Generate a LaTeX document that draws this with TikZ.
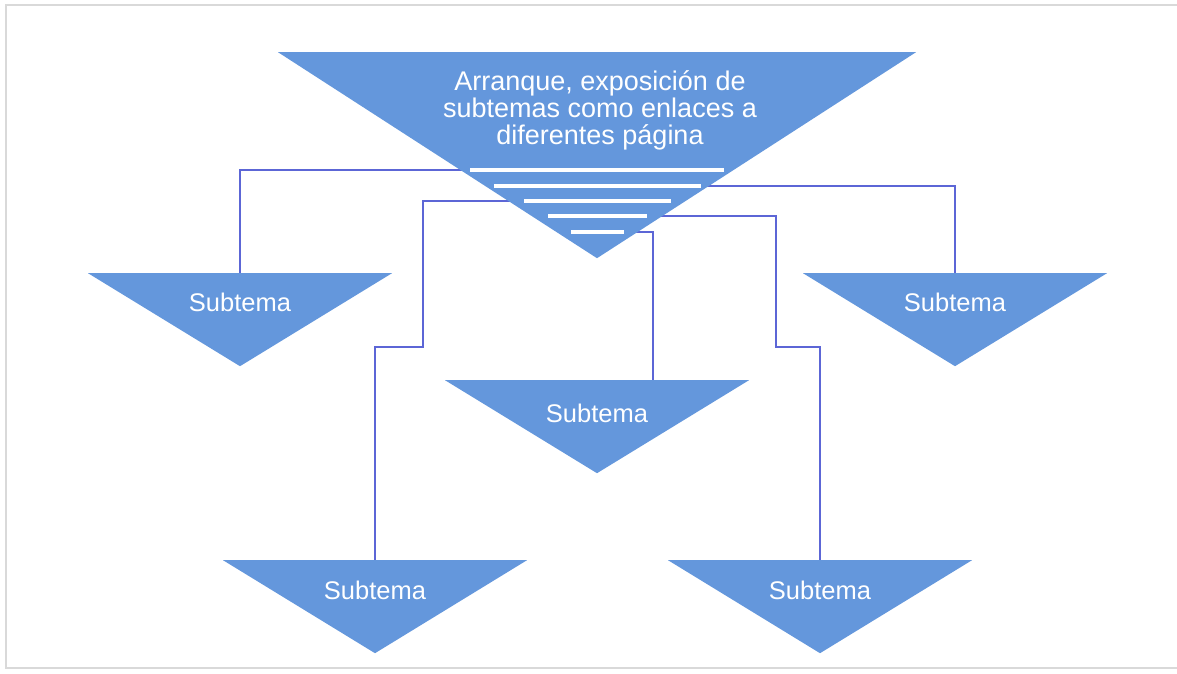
\documentclass[tikz,border=0pt]{standalone}
\usepackage{fontspec}
\setmainfont{Liberation Sans}
\usepackage{tikz}
\usetikzlibrary{shapes.geometric}
\usetikzlibrary{backgrounds}
\definecolor{tema}{RGB}{100,151,220}
\definecolor{enlace}{RGB}{92,102,214}
\tikzset{
  font={\fontsize{25.5pt}{27pt}\selectfont}}

\begin{document}
\begin{tikzpicture}[x=1pt, y=-1pt]

    \tikzset{tri/.style = {isosceles triangle, isosceles triangle stretches, shape border rotate=270,
                           fill=tema, inner sep=0pt, anchor=lower side},
             link/.style = {draw=enlace, line width=2pt},
             stripe/.style = {draw=white, line width=3.5pt},
             txt/.style = {text=white, align=center}}

    \useasboundingbox (0,0) rectangle (1177,674);
    \draw[gray!30, line width=2.5pt] (1177,5) -- (6,5) -- (6,668) -- (1177,668);

    % triangles
    \node[tri, minimum width=638pt, minimum height=206pt] (m) at (597,52) {};
    \node[tri, minimum width=304pt, minimum height=93pt] (s1) at (240,273) {};
    \node[tri, minimum width=304pt, minimum height=93pt] (s5) at (955,273) {};
    \node[tri, minimum width=304pt, minimum height=93pt] (s2) at (597,380) {};
    \node[tri, minimum width=304pt, minimum height=93pt] (s3) at (375,560) {};
    \node[tri, minimum width=304pt, minimum height=93pt] (s4) at (820,560) {};

    % texts
    \node[txt, font={\fontsize{27pt}{27pt}\selectfont}] (mt) at (600,110)
        {Arranque, exposición de\\subtemas como enlaces a\\diferentes página};
    \node[txt] (t1) at (240,302) {Subtema};
    \node[txt] (t5) at (955,302) {Subtema};
    \node[txt] (t2) at (597,413) {Subtema};
    \node[txt] (t3) at (375,590) {Subtema};
    \node[txt] (t4) at (820,590) {Subtema};

    % stripes
    \draw[stripe] (470,170) -- (724,170);
    \draw[stripe] (494,186) -- (701,186);
    \draw[stripe] (524,201) -- (671,201);
    \draw[stripe] (548,216) -- (647,216);
    \draw[stripe] (571,232) -- (624,232);

    % links
    \begin{scope}[on background layer]
    \draw[link] (m.apex |- 0,170) -| (s1.lower side);
    \draw[link] (m.apex |- 0,186) -| (s5.lower side);
    \draw[link] (m.apex |- 0,201) -| (423,347) -| (s3.lower side);
    \draw[link] (m.apex |- 0,216) -| (776,347) -| (s4.lower side);
    \draw[link] (m.apex |- 0,232) -| (653,0 |- s2.lower side);
    \end{scope}

\end{tikzpicture}
\end{document}
